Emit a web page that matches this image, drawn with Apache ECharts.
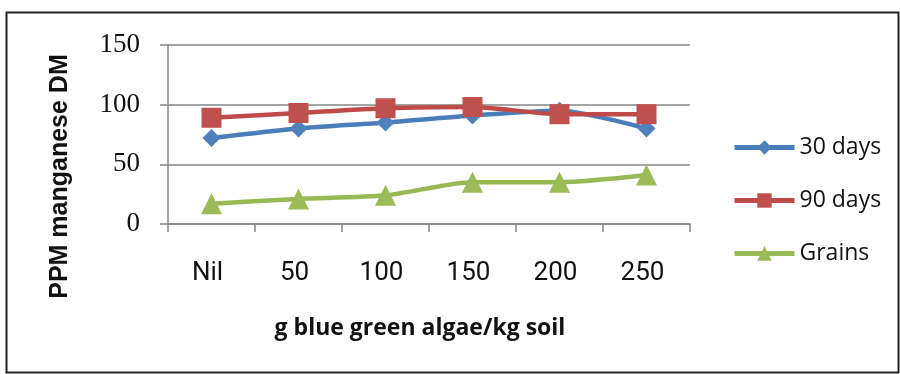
<!DOCTYPE html>
<html>
<head>
<meta charset="utf-8">
<script src="https://cdn.jsdelivr.net/npm/echarts@6/dist/echarts.min.js"></script>
<style>
html,body{margin:0;padding:0;background:#fff;}
#container{width:900px;height:374px;}
</style>
</head>
<body>
<div id="container"></div>
<script>
var categories = ['Nil', '50', '100', '150', '200', '250'];
var days30 = [72, 80, 85, 91, 95, 80];
var days90 = [89, 93, 97, 98, 92, 92];
var grains = [17, 21, 24, 35, 35, 41];

var dom = document.getElementById("container");
var myChart = echarts.init(dom);
var option = {
    animation: false,
    backgroundColor: '#fff',
    graphic: [{
        type: 'rect',
        shape: {x: 6.5, y: 12.5, width: 892, height: 360},
        style: {fill: 'none', stroke: '#222', lineWidth: 2}
    }],
    grid: {left: 168, right: 210, top: 45, bottom: 150},
    legend: {
        orient: 'vertical',
        left: 727,
        top: 131,
        itemWidth: 60,
        itemHeight: 18,
        itemGap: 30,
        lineStyle: {width: 5},
        textStyle: {fontFamily: '"Open Sans", sans-serif', fontSize: 23, color: '#111'},
        data: ['30 days', '90 days', 'Grains']
    },
    xAxis: {
        type: 'category',
        data: categories,
        name: 'g blue green algae/kg soil',
        nameLocation: 'middle',
        nameGap: 93,
        nameTextStyle: {fontFamily: '"Open Sans", sans-serif', fontSize: 23, fontWeight: 'bold', color: '#111', padding: [0, 18, 0, 0]},
        axisLine: {lineStyle: {color: '#868686', width: 1.5}},
        axisTick: {show: true, length: 8, lineStyle: {color: '#868686', width: 1.5}},
        axisLabel: {fontFamily: 'Roboto, sans-serif', fontSize: 26, color: '#111', margin: 36, padding: [0, 8, 0, 0]}
    },
    yAxis: {
        type: 'value',
        min: 0,
        max: 150,
        interval: 50,
        name: 'PPM manganese DM',
        nameLocation: 'middle',
        nameGap: 95,
        nameRotate: 90,
        nameTextStyle: {fontFamily: '"Liberation Sans", Arial, sans-serif', fontSize: 25, fontWeight: 'bold', color: '#111', padding: [0, 84, 0, 0]},
        axisLine: {show: true, lineStyle: {color: '#868686', width: 1.5}},
        axisTick: {show: true, length: 8, lineStyle: {color: '#868686', width: 1.5}},
        axisLabel: {fontFamily: '"Liberation Serif", serif', fontSize: 27, color: '#111', margin: 28},
        splitLine: {lineStyle: {color: '#868686', width: 1.5}}
    },
    series: [
        {
            name: '30 days',
            type: 'line',
            data: days30,
            smooth: 0.25,
            symbol: 'diamond',
            symbolSize: 18,
            lineStyle: {color: '#4A7EBB', width: 4.5},
            itemStyle: {color: '#4F81BD'}
        },
        {
            name: '90 days',
            type: 'line',
            data: days90,
            smooth: 0.25,
            symbol: 'rect',
            symbolSize: 20,
            lineStyle: {color: '#BE4B48', width: 4.5},
            itemStyle: {color: '#C0504D'}
        },
        {
            name: 'Grains',
            type: 'line',
            data: grains,
            smooth: 0.25,
            symbol: 'triangle',
            symbolSize: 21,
            lineStyle: {color: '#98B954', width: 4.5},
            itemStyle: {color: '#9BBB59'}
        }
    ]
};
myChart.setOption(option, true);
</script>
</body>
</html>
